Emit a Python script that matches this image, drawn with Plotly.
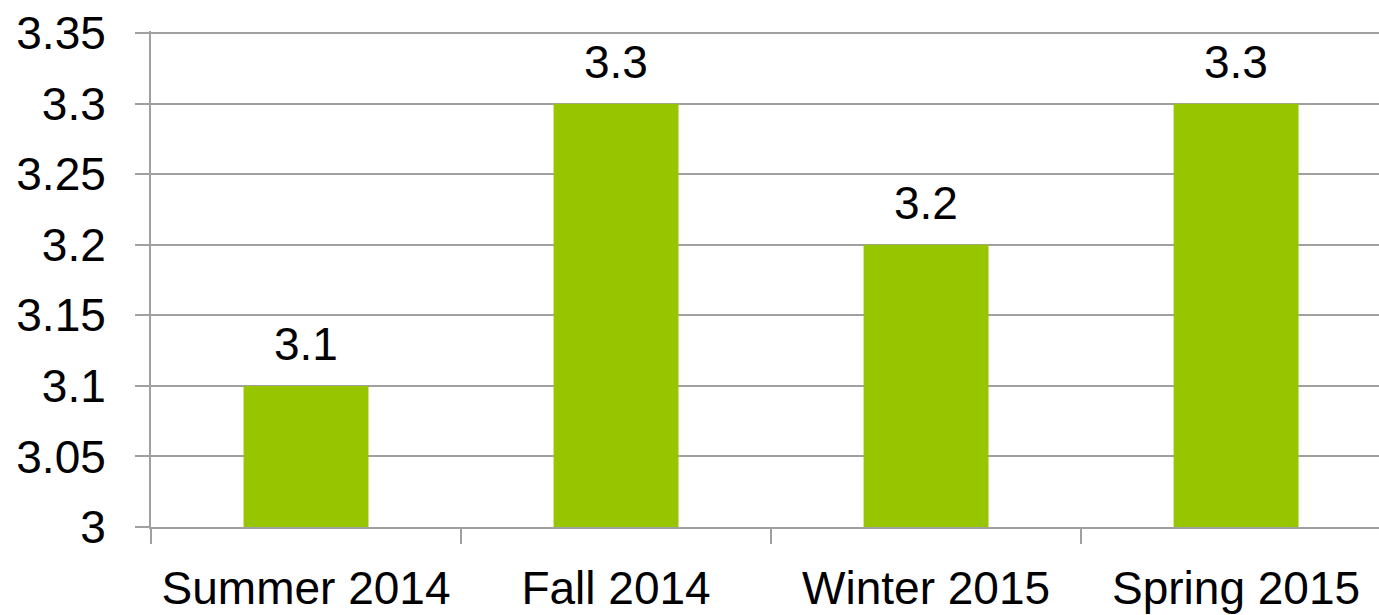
import plotly.graph_objects as go

terms = ['Summer 2014', 'Fall 2014', 'Winter 2015', 'Spring 2015']
gpa = [3.1, 3.3, 3.2, 3.3]
y_ticks = [3, 3.05, 3.1, 3.15, 3.2, 3.25, 3.3, 3.35]

GREEN = '#97C600'
GRID = '#A0A0A0'
FONT = 'Liberation Sans'

fig = go.Figure(go.Bar(x=terms, y=gpa, marker=dict(color=GREEN, line=dict(width=0)), hoverinfo='skip'))

for t, v in zip(terms, gpa):
    fig.add_annotation(x=t, y=v, text=str(v), showarrow=False, yanchor='bottom', yshift=14,
                       font=dict(family=FONT, size=46, color='black'))

fig.update_layout(
    width=1379, height=615,
    margin=dict(l=151, r=0, t=31, b=88, autoexpand=False),
    plot_bgcolor='white', paper_bgcolor='white',
    bargap=0.597,
    showlegend=False,
    font=dict(family=FONT, size=46, color='black'),
    xaxis=dict(range=[-0.5, 3.461], showgrid=False, showline=True, linecolor=GRID, linewidth=2,
               ticks='outside', tickson='boundaries', ticklen=15, tickcolor=GRID, tickwidth=2,
               ticklabelstandoff=20, automargin=False),
    # top of range nudged past 3.35 so plotly keeps that gridline
    yaxis=dict(range=[3, 3.3515], tickvals=y_ticks, showgrid=True, gridcolor=GRID, gridwidth=2,
               showline=True, linecolor=GRID, linewidth=2, zeroline=False,
               ticks='outside', ticklen=14, tickcolor=GRID, tickwidth=2,
               ticklabelstandoff=20, ticklabeloverflow='allow', automargin=False),
)

# drop the default body margin / scrollbars so the figure fills the window
js = ("document.documentElement.style.overflow='hidden';"
      "document.body.style.margin='0';document.body.style.overflow='hidden';")
fig.write_html('out.html', post_script=js, config={'displayModeBar': False})
